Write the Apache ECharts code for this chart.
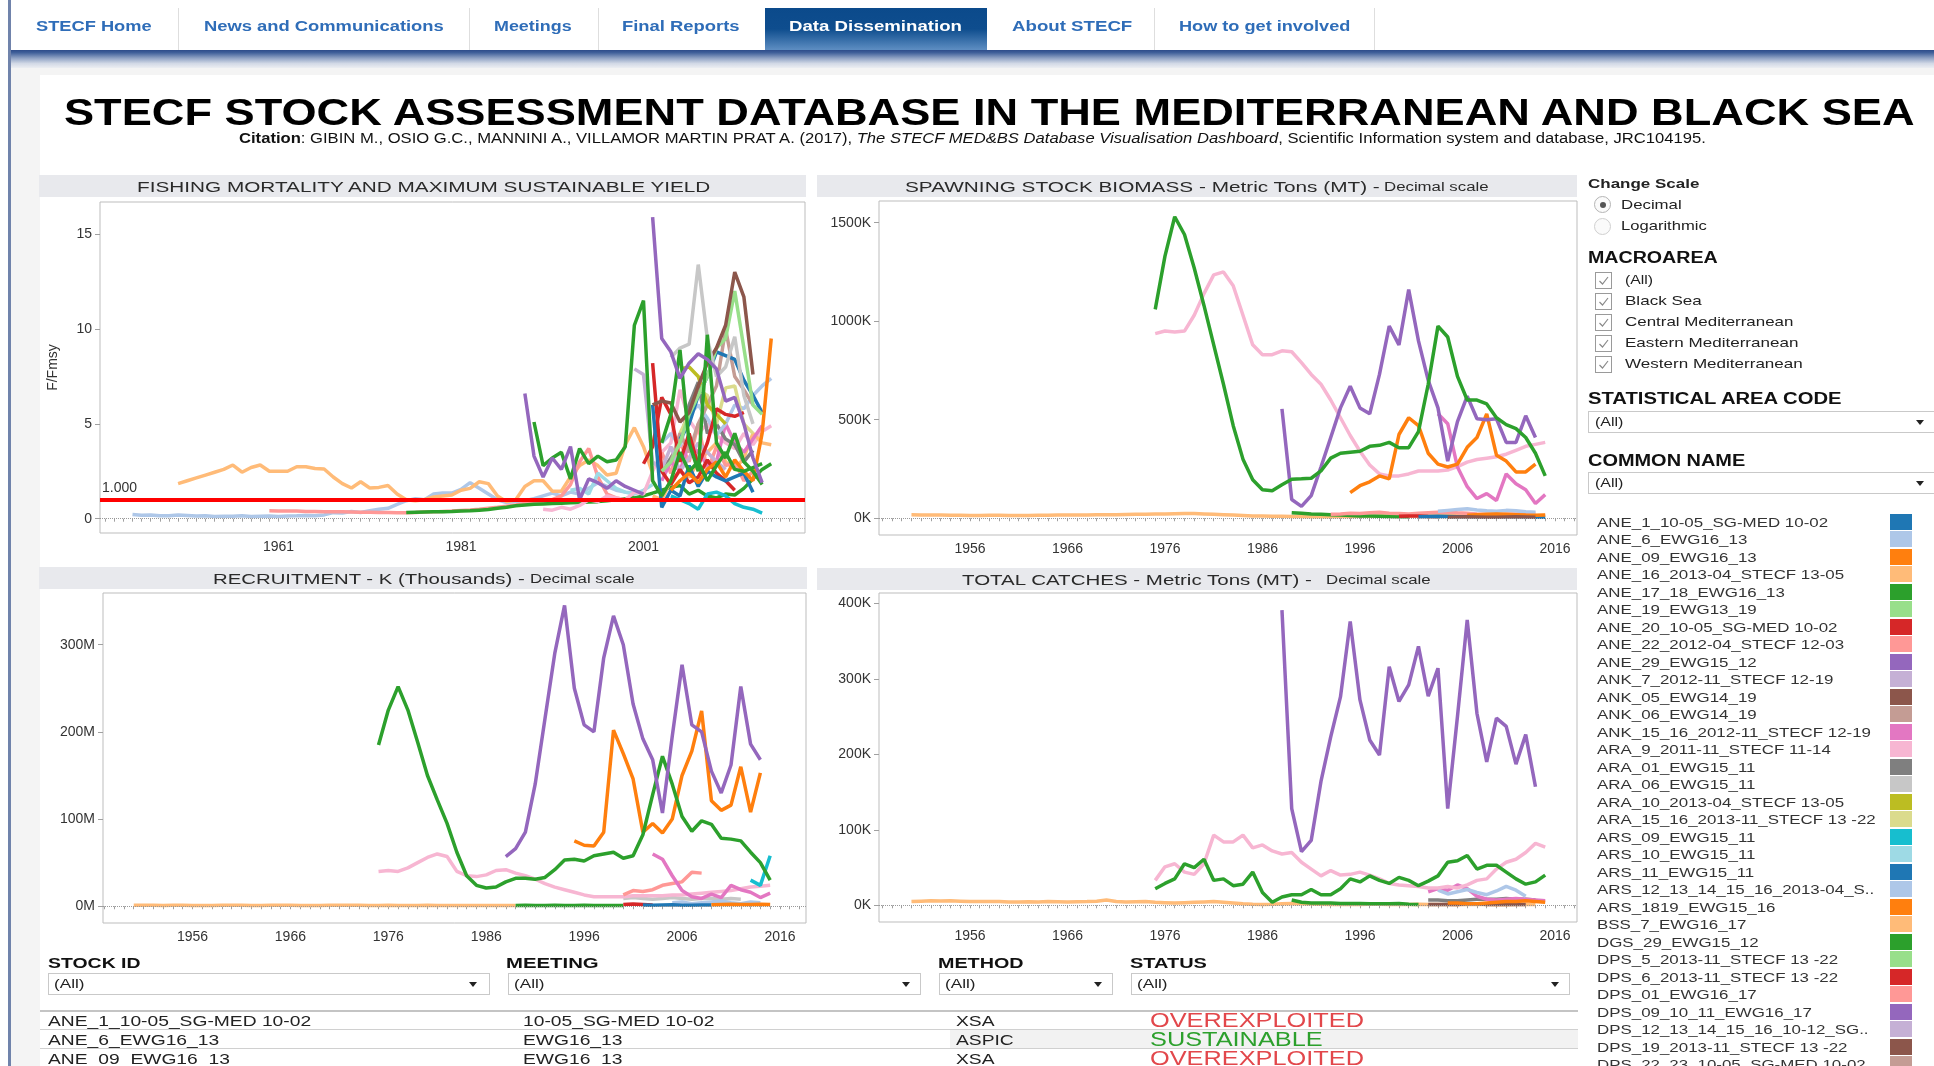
<!DOCTYPE html>
<html lang="en">
<head>
<meta charset="UTF-8">
<meta name="viewport" content="width=device-width, initial-scale=1.0">
<script src="https://cdn.jsdelivr.net/npm/echarts@6.0.0/dist/echarts.min.js"></script>
<title>STECF stock assessment database</title>
<style>
    * { margin: 0; padding: 0; box-sizing: border-box; }
    body {
        position: relative; width: 1934px; height: 1066px; overflow: hidden; background: #fff;
        font-family: "Liberation Sans", Arial, sans-serif; color: #222;
    }
    .box { position: absolute; }
    .t {
        position: absolute; white-space: nowrap; line-height: 1; z-index: 3;
        transform-origin: 0 50%; transform: translateY(-50%);
    }
    .nav { font-size: 14px; font-weight: bold; color: #2f6db8; }
    .sep { position: absolute; top: 8px; width: 1px; height: 42px; background: #dedede; }
    .hdr { position: absolute; height: 22px; background: #e8e9ed; }
    .ht { font-size: 15px; color: #2a2a2a; }
    .hs { font-size: 12px; color: #2a2a2a; }
    .side { font-size: 13.5px; color: #222; }
    .sideb { font-size: 16px; font-weight: bold; color: #111; }
    .flt { font-size: 14px; font-weight: bold; color: #111; }
    .dd { position: absolute; height: 22px; background: #fff; border: 1px solid #c9c9c9; }
    .ddt { font-size: 12px; color: #222; }
    .arrow {
        position: absolute; width: 0; height: 0; z-index: 3;
        border-left: 4px solid transparent; border-right: 4px solid transparent; border-top: 5px solid #222;
    }
    .cb { position: absolute; width: 17px; height: 17px; border: 1px solid #9a9a9a; background: #fff; }
    .radio { position: absolute; width: 17px; height: 17px; border-radius: 50%; border: 1px solid #b5b5b5; background: #fafafa; }
    .lg { font-size: 13px; color: #333; }
    .cell { font-size: 15px; color: #222; }
    .status { font-size: 20px; }
    #chart { position: absolute; left: 0; top: 0; width: 1934px; height: 1066px; z-index: 2; }
</style>
</head>
<body>
<!-- page frame -->
<div class="box" style="left:8px;top:0;width:3px;height:1066px;background:#7083ab"></div>
<div class="sep" style="left:178px"></div>
<div class="sep" style="left:469px"></div>
<div class="sep" style="left:598px"></div>
<div class="sep" style="left:1154px"></div>
<div class="sep" style="left:1374px"></div>
<div class="box" style="left:765px;top:8px;width:222px;height:42px;background:linear-gradient(#0b4a8b 0%, #0e4d8e 50%, #5e8ec2 100%)"></div>
<div class="box" style="left:11px;top:50px;width:1923px;height:18px;background:linear-gradient(#2d4c8a 0%, #40609a 15%, #8fa2c4 45%, #d2d9e6 75%, #eceef2 100%)"></div>
<div class="box" style="left:11px;top:68px;width:1923px;height:7px;background:#f4f4f4"></div>
<div class="box" style="left:11px;top:75px;width:29px;height:991px;background:#f4f4f4"></div>

<div class="t nav" data-w="116" style="left:36px;top:26px">STECF Home</div>
<div class="t nav" data-w="240" style="left:204px;top:26px">News and Communications</div>
<div class="t nav" data-w="78" style="left:494px;top:26px">Meetings</div>
<div class="t nav" data-w="117" style="left:622px;top:26px">Final Reports</div>
<div class="t nav" data-w="173" style="left:789px;top:26px;color:#fff">Data Dissemination</div>
<div class="t nav" data-w="120" style="left:1012px;top:26px">About STECF</div>
<div class="t nav" data-w="171" style="left:1179px;top:26px">How to get involved</div>

<div class="t" data-w="1850" style="left:64px;top:113px;font-size:36px;font-weight:bold;color:#000">STECF STOCK ASSESSMENT DATABASE IN THE MEDITERRANEAN AND BLACK SEA</div>
<div class="t" data-w="1467" style="left:239px;top:138px;font-size:14px;color:#111"><b>Citation</b>: GIBIN M., OSIO G.C., MANNINI A., VILLAMOR MARTIN PRAT A. (2017), <i>The STECF MED&amp;BS Database Visualisation Dashboard</i>, Scientific Information system and database, JRC104195.</div>

<!-- chart headers -->
<div class="hdr" style="left:39px;top:175px;width:767px"></div>
<div class="hdr" style="left:817px;top:175px;width:760px"></div>
<div class="hdr" style="left:39px;top:567px;width:768px"></div>
<div class="hdr" style="left:817px;top:568px;width:760px"></div>
<div class="t ht" data-w="574" style="left:137px;top:186px">FISHING MORTALITY AND MAXIMUM SUSTAINABLE YIELD</div>
<div class="t ht" data-w="475" style="left:905px;top:186px">SPAWNING STOCK BIOMASS - Metric Tons (MT) -</div>
<div class="t hs" data-w="105" style="left:1384px;top:187px">Decimal scale</div>
<div class="t ht" data-w="312" style="left:213px;top:578px">RECRUITMENT - K (Thousands) -</div>
<div class="t hs" data-w="105" style="left:530px;top:579px">Decimal scale</div>
<div class="t ht" data-w="350" style="left:962px;top:579px">TOTAL CATCHES - Metric Tons (MT) -</div>
<div class="t hs" data-w="105" style="left:1326px;top:580px">Decimal scale</div>

<!-- right side filters -->
<div class="t side" data-w="111" style="left:1588px;top:183px;font-weight:bold;font-size:13px">Change Scale</div>
<div class="radio" style="left:1594px;top:196px"></div>
<div class="box" style="left:1599.5px;top:201.5px;width:6px;height:6px;border-radius:50%;background:#555"></div>
<div class="radio" style="left:1594px;top:218px;border-color:#d0d0d0"></div>
<div class="t side" data-w="61" style="left:1621px;top:205px">Decimal</div>
<div class="t side" data-w="86" style="left:1621px;top:226px">Logarithmic</div>
<div class="t sideb" data-w="130" style="left:1588px;top:258px">MACROAREA</div>
<div id="checks"></div>
<div class="t sideb" data-w="254" style="left:1588px;top:399px">STATISTICAL AREA CODE</div>
<div class="dd" style="left:1588px;top:411px;width:360px"></div>
<div class="t ddt" data-w="28" style="left:1595px;top:422px">(All)</div>
<div class="arrow" style="left:1916px;top:420px"></div>
<div class="t sideb" data-w="157" style="left:1588px;top:461px">COMMON NAME</div>
<div class="dd" style="left:1588px;top:472px;width:360px"></div>
<div class="t ddt" data-w="28" style="left:1595px;top:483px">(All)</div>
<div class="arrow" style="left:1916px;top:481px"></div>
<div id="legend"></div>

<!-- bottom filters and table -->
<div class="t flt" data-w="93" style="left:48px;top:963px">STOCK ID</div>
<div class="t flt" data-w="93" style="left:506px;top:963px">MEETING</div>
<div class="t flt" data-w="86" style="left:938px;top:963px">METHOD</div>
<div class="t flt" data-w="77" style="left:1130px;top:963px">STATUS</div>
<div class="dd" style="left:48px;top:973px;width:442px"></div>
<div class="dd" style="left:508px;top:973px;width:413px"></div>
<div class="dd" style="left:939px;top:973px;width:174px"></div>
<div class="dd" style="left:1131px;top:973px;width:439px"></div>
<div class="t ddt" data-w="30" style="left:54px;top:984px">(All)</div>
<div class="t ddt" data-w="30" style="left:514px;top:984px">(All)</div>
<div class="t ddt" data-w="30" style="left:945px;top:984px">(All)</div>
<div class="t ddt" data-w="30" style="left:1137px;top:984px">(All)</div>
<div class="arrow" style="left:469px;top:982px"></div>
<div class="arrow" style="left:902px;top:982px"></div>
<div class="arrow" style="left:1094px;top:982px"></div>
<div class="arrow" style="left:1551px;top:982px"></div>
<div class="box" style="left:950px;top:1030px;width:628px;height:18px;background:#f2f2f2"></div>
<div class="box" style="left:40px;top:1010px;width:1538px;height:2px;background:#c4c4c4"></div>
<div class="box" style="left:40px;top:1029px;width:1538px;height:1px;background:#d0d0d0"></div>
<div class="box" style="left:40px;top:1048px;width:1538px;height:1px;background:#d0d0d0"></div>
<div id="table"></div>

<div id="chart"></div>

<script>
    // ---------- legend / filter data ----------
    var palette = ['#1f77b4', '#aec7e8', '#ff7f0e', '#ffbb78', '#2ca02c', '#98df8a', '#d62728', '#ff9896', '#9467bd', '#c5b0d5',
        '#8c564b', '#c49c94', '#e377c2', '#f7b6d2', '#7f7f7f', '#c7c7c7', '#bcbd22', '#dbdb8d', '#17becf', '#9edae5'];
    var stockNames = ['ANE_1_10-05_SG-MED 10-02', 'ANE_6_EWG16_13', 'ANE_09_EWG16_13', 'ANE_16_2013-04_STECF 13-05',
        'ANE_17_18_EWG16_13', 'ANE_19_EWG13_19', 'ANE_20_10-05_SG-MED 10-02', 'ANE_22_2012-04_STECF 12-03',
        'ANE_29_EWG15_12', 'ANK_7_2012-11_STECF 12-19', 'ANK_05_EWG14_19', 'ANK_06_EWG14_19',
        'ANK_15_16_2012-11_STECF 12-19', 'ARA_9_2011-11_STECF 11-14', 'ARA_01_EWG15_11', 'ARA_06_EWG15_11',
        'ARA_10_2013-04_STECF 13-05', 'ARA_15_16_2013-11_STECF 13 -22', 'ARS_09_EWG15_11', 'ARS_10_EWG15_11',
        'ARS_11_EWG15_11', 'ARS_12_13_14_15_16_2013-04_S..', 'ARS_1819_EWG15_16', 'BSS_7_EWG16_17',
        'DGS_29_EWG15_12', 'DPS_5_2013-11_STECF 13 -22', 'DPS_6_2013-11_STECF 13 -22', 'DPS_01_EWG16_17',
        'DPS_09_10_11_EWG16_17', 'DPS_12_13_14_15_16_10-12_SG..', 'DPS_19_2013-11_STECF 13 -22',
        'DPS_22_23_10-05_SG-MED 10-02'];
    var macroAreas = ['(All)', 'Black Sea', 'Central Mediterranean', 'Eastern Mediterranean', 'Western Mediterranean'];
    var macroWidths = [28, 77, 168, 173, 178];

    var tableStock = ['ANE_1_10-05_SG-MED 10-02', 'ANE_6_EWG16_13', 'ANE_09_EWG16_13'];
    var tableMeeting = ['10-05_SG-MED 10-02', 'EWG16_13', 'EWG16_13'];
    var tableMethod = ['XSA', 'ASPIC', 'XSA'];
    var tableStatus = ['OVEREXPLOITED', 'SUSTAINABLE', 'OVEREXPLOITED'];

    // ---------- F / Fmsy ----------
    var fAne6 = [0.22, 0.18, 0.2, 0.15, 0.16, 0.2, 0.17, 0.14, 0.15, 0.12, 0.13, 0.13, 0.15, 0.12, 0.13, 0.14, 0.12, 0.14, 0.15, 0.17,
        0.15, 0.2, 0.32, 0.3, 0.38, 0.33, 0.42, 0.5, 0.55, 0.75, 0.95, 1.05, 1.0, 1.3, 1.35, 1.35, 1.55, 1.9, 1.6, 1.3,
        1.0, 0.85, 0.9, 0.95, 1.05, 1.2, 1.35, 1.2, 1.4, 1.3, 1.6, 1.9, 1.7, 1.5, 1.4, 1.35];           // 1945-2000
    var fBss7 = [1.85, 2.0, 2.15, 2.3, 2.45, 2.6, 2.83, 2.45, 2.7, 2.83, 2.5, 2.5, 2.5, 2.74, 2.74, 2.65, 2.62, 2.2, 1.85, 1.62,
        1.95, 1.62, 1.65, 1.75, 1.3, 1.0, 0.95, 1.0, 1.15, 1.2, 1.25, 1.5, 1.6, 1.95, 1.85, 1.2, 0.9, 1.0, 1.7, 2.0,
        2.0, 1.45, 1.45, 2.2, 2.8, 3.1, 2.8, 2.3, 2.4, 3.9, 4.8, 3.8, 2.4];                           // 1950-2002
    var fDps01 = [0.42, 0.41, 0.4, 0.4, 0.38, 0.38, 0.37, 0.36, 0.36, 0.35, 0.34, 0.34, 0.33, 0.33, 0.32, 0.32, 0.33, 0.35, 0.36, 0.38,
        0.4, 0.43, 0.46, 0.5, 0.55, 0.6, 0.66, 0.72, 0.8, 0.85, 0.9, 1.0, 1.2, 1.8, 3.0, 3.7, 2.2, 1.3, 1.1, 1.0, 1.2]; // 1960-2000
    var fAne1718 = [0.33, 0.34, 0.35, 0.36, 0.37, 0.38, 0.4, 0.42, 0.45, 0.48, 0.55, 0.6, 0.68, 0.72, 0.76, 0.78, 0.8, 0.82, 0.84, 0.85,
        0.88, 0.9, 0.95, 1.0, 1.05, 1.1, 1.2, 1.35, 1.5, 1.65, 1.75, 1.3, 1.5, 1.2, 1.1, 1.3, 1.25, 1.6, 2.1, 2.6, 2.9]; // 1975-2015
    var fAne29 = [6.6, 3.3, 2.2, 3.2, 2.6, 3.8, 1.0, 2.1, 1.9, 1.6, 2.0, 1.7, 1.5, 1.3];                    // 1988-2001
    var fDgs29 = [5.1, 2.8, 3.2, 3.5, 2.1, 3.7, 2.9, 3.3, 3.0, 3.1, 3.8, 10.2, 11.5, 2.0, 1.2, 2.0, 3.5, 2.5, 3.0, 2.0,
        2.8, 3.5, 2.6, 2.5, 2.7, 2.9];                                                               // 1989-2014
    var fAne19 = [4.0, 5.5, 8.9, 4.0, 2.5, 9.7, 4.0, 3.2, 4.5, 3.0, 2.5, 1.8];                             // 2003-2014
    var fDps0911 = [15.9, 9.5, 8.8, 7.4, 8.2, 8.7, 8.4, 7.9, 6.2, 6.4, 5.0, 3.2, 1.9];                      // 2002-2014
    var fAra06 = [8.5, 9.0, 9.2, 13.4, 9.5, 7.5, 8.0, 9.6, 6.5, 5.0];                                      // 2004-2013
    var fAnk05 = [6.0, 6.2, 6.1, 5.1, 5.6, 7.0, 8.2, 9.0, 10.2, 13.0, 11.7, 7.6];                          // 2002-2013
    var fDps5 = [2.5, 3.0, 4.0, 5.5, 6.5, 7.5, 9.0, 9.5, 12.0, 9.0, 6.0, 5.5];                             // 2003-2014
    var fAne09 = [1.5, 2.0, 2.4, 1.9, 2.6, 3.0, 2.2, 3.1, 2.5, 2.0, 4.5, 9.5];                             // 2004-2015
    var fArs11 = [4.2, 5.0, 6.5, 7.5, 8.8, 8.6, 8.4, 7.3, 6.5, 5.6];                                       // 2005-2014
    var fAne1 = [6.0, 0.6, 1.5, 1.2, 2.8, 1.7, 2.5, 2.2, 2.0, 2.2, 2.4, 1.4];                              // 2002-2013
    var fAne20 = [2.9, 3.8, 6.4, 5.5, 3.0, 4.5, 2.8, 4.0, 5.8, 5.5, 5.4, 5.6];                             // 2001-2012
    var fDps6 = [8.2, 2.5, 1.8, 2.6, 1.9, 2.2, 3.1, 2.4, 2.0, 1.5];                                        // 2002-2011
    var fAnk06 = [3.0, 4.5, 3.5, 5.0, 6.0, 7.0, 10.0, 7.5, 6.8, 6.0];                                      // 2004-2013
    var fAra10 = [7.9, 8.0, 7.5, 6.0, 5.5, 5.0];                                                           // 2005-2010
    var fAra1516 = [4.5, 5.5, 6.8, 6.5, 5.0, 6.9, 7.0, 5.0, 4.5];                                          // 2005-2013
    var fArs09 = [1.2, 1.0, 0.8, 0.5, 1.3, 1.4, 1.2, 0.8, 0.6, 0.5, 0.3];                                  // 2004-2014
    var fArs10 = [1.5, 1.6, 1.3, 2.4, 2.0, 1.6, 1.4, 1.3, 1.5, 1.8];                                       // 1993-2002
    var fAne22 = [3.5, 2.4, 4.0, 3.0, 5.0, 2.5, 3.8, 2.8, 3.0, 2.0, 2.5];                                  // 2003-2013
    var fAnk1516 = [2.0, 3.0, 2.5, 4.0, 3.5, 2.8, 3.0, 5.0, 4.0, 3.5, 4.2, 4.9];                           // 2003-2014
    var fAra9 = [0.5, 0.45, 0.6, 0.5, 0.7, 1.0, 0.9, 1.2, 1.1, 1.0, 1.4, 1.3, 2.5, 3.5, 4.0, 6.8, 5.2, 4.5, 5.0, 4.4,
        4.0, 3.7, 4.5, 3.9, 4.6, 4.9];                                                               // 1990-2015
    var fAnk7 = [7.9, 7.6, 3.0, 2.6, 3.8, 2.5, 3.2, 4.0, 3.5, 3.0, 2.6];                                   // 2000-2010
    var fAra01 = [2.5, 3.2, 4.0, 6.0, 7.2, 4.5, 5.0, 4.2, 3.9, 3.0, 3.6];                                  // 2003-2013
    var fArs12 = [4.0, 4.5, 3.8, 5.5, 6.0, 5.3, 4.4, 5.0, 6.0, 5.8, 6.5, 7.0, 7.4];                        // 2003-2015
    var fAne16 = [1.2, 1.0, 2.0, 2.5, 2.2, 3.0, 3.5, 4.0, 3.0, 2.6, 3.2, 4.5, 4.0, 3.9];                   // 2002-2015

    // ---------- spawning stock biomass (thousand t) ----------
    var ssbBss7 = [18, 17, 17, 16, 15, 15, 14, 14, 15, 15, 14, 14, 14, 15, 15, 16, 16, 17, 17, 18, 18, 18, 19, 20, 20,
        21, 22, 23, 24, 24, 22, 20, 18, 16, 14, 12, 11, 10, 10, 9, 9, 8, 8, 8, 9, 9, 10, 10, 11, 11,
        12, 12, 13, 13, 14, 14, 13, 12, 12, 11, 11, 12, 12, 13, 13, 14];                              // 1950-2015
    var ssbSpr = [1060, 1330, 1530, 1440, 1270, 1080, 880, 680, 470, 300, 195, 145, 140, 170, 198, 200, 203, 240, 305, 330,
        335, 340, 365, 370, 385, 358, 358, 440, 680, 975, 920, 720, 600, 600, 580, 510, 475, 455, 410, 330, 215]; // 1975-2015
    var ssbAra9 = [937, 950, 945, 950, 1030, 1140, 1235, 1250, 1180, 1030, 880, 830, 830, 850, 845, 790, 730, 680, 600, 510,
        420, 340, 270, 225, 215, 215, 225, 240, 240, 240, 245, 262, 285, 298, 305, 312, 325, 345, 365, 375, 385]; // 1975-2015
    var ssbDps0911 = [555, 95, 60, 115, 260, 410, 560, 670, 560, 530, 730, 975, 880, 1160, 900, 700, 560, 290, 490, 620,
        505, 500, 505, 385, 385, 520, 410];                                                          // 1988-2014
    var ssbAne09 = [130, 165, 185, 215, 200, 425, 510, 470, 330, 275, 260, 275, 360, 410, 530, 320, 290, 235, 235, 275]; // 1995-2014
    var ssbAnk1516 = [530, 480, 260, 160, 100, 125, 90, 225, 175, 145, 75, 120];                            // 2004-2015
    var ssbDgs29 = [28, 25, 22, 20, 18, 16, 14, 12, 11, 10, 9, 8, 7];                                      // 1989-2001
    var ssbAne20 = [10, 12, 11, 9, 8];                                                                     // 2000-2004
    var ssbAne1 = [8, 9, 10, 9, 8, 7, 6, 6, 7, 8, 7, 6, 5, 5];                                             // 2002-2015
    var ssbAne6 = [35, 40, 45, 48, 42, 38, 35, 40, 38, 33, 30];                                            // 2004-2014
    var ssbAne22 = [20, 22, 25, 24, 28, 30, 26, 24, 22, 25, 28, 30, 32, 28, 25, 22, 20, 18, 20, 22, 24, 25]; // 1993-2014
    var ssbArs1819 = [15, 18, 20, 22, 20, 18, 16, 15, 17];                                                 // 2007-2015
    var ssbAnk05 = [5, 6, 7, 6, 5, 5, 6, 7, 6, 5];                                                         // 2005-2014

    // ---------- recruitment (million) ----------
    var recBss7 = [1.2, 1.1, 1.2, 1.0, 1.1, 1.2, 1.0, 0.9, 1.0, 1.1, 1.2, 1.1, 1.0, 1.0, 1.1, 1.2, 1.1, 1.0, 0.9, 1.0,
        1.1, 1.2, 1.2, 1.1, 1.0, 1.0, 1.1, 1.0, 0.9, 1.0, 1.1, 1.0, 1.0, 0.9, 0.8, 0.9, 1.0, 1.0, 0.9, 0.9]; // 1950-1989
    var recSpr = [185, 225, 252, 225, 188, 150, 122, 95, 62, 35, 24, 21, 22, 28, 32, 32, 31, 33, 42, 53,
        54, 52, 58, 60, 62, 55, 58, 82, 128, 172, 140, 103, 86, 98, 94, 78, 77, 75, 62, 50, 30];   // 1975-2015
    var recDps0911 = [57, 66, 85, 140, 215, 290, 345, 250, 208, 200, 285, 333, 300, 232, 192, 168, 107, 195, 277, 208,
        200, 155, 130, 162, 252, 186, 168];                                                          // 1988-2014
    var recAne09 = [75, 70, 69, 85, 202, 175, 146, 85, 95, 84, 100, 150, 178, 224, 121, 110, 116, 160, 108, 153]; // 1995-2014
    var recAra9 = [40, 41, 40, 44, 50, 56, 60, 57, 40, 35, 34, 36, 41, 42, 38, 35, 31, 26, 22, 19,
        16, 13, 11, 11, 11, 11, 12, 12, 12, 12, 13, 13, 14, 15, 16, 17, 18, 20, 22, 23, 24];      // 1975-2015
    var recAnk1516 = [60, 54, 35, 18, 11, 9, 14, 10, 24, 19, 16, 10, 15];                                  // 2003-2015
    var recAne22 = [13, 18, 17, 19, 24, 26, 28, 39, 38];                                                   // 2000-2008
    var recArs09 = [30, 24, 58];                                                                           // 2013-2015
    var recDgs29 = [1.0, 1.1, 0.9, 1.0, 1.2, 1.0, 0.9, 1.1, 1.0, 1.0, 0.9, 1.0];                          // 1989-2000
    var recAne20 = [2.0, 2.5, 2.0, 1.5];                                                                   // 2000-2003
    var recAne1 = [1.5, 1.2, 1.4, 1.6, 1.3, 1.2, 1.5, 1.4];                                                // 2002-2009
    var recArs1819 = [1.8, 2.0, 2.2, 1.9, 2.1, 2.3, 2.0];                                                  // 2009-2015
    var recAra06 = [9, 10, 9, 8, 9, 10, 9, 8, 9, 9, 8, 9, 8];                                              // 2000-2012
    var recAne6 = [4, 5, 3, 4, 5, 6, 4, 3, 5, 4];                                                          // 2005-2014

    // ---------- total catches (thousand t) ----------
    var catBss7 = [5, 5.5, 6, 5.8, 6, 5.5, 5, 5, 5.2, 5, 4.5, 4.5, 4.8, 4.5, 5, 4.8, 4.5, 4.8, 5, 5.5,
        7, 5, 4.5, 4.8, 5, 4, 3.5, 3, 3.5, 4, 4.5, 5, 4, 3, 2, 1.5, 1.2, 1.5, 2, 2.5,
        2, 1.8, 1.5, 1.2, 1, 1, 1.2, 1.5, 1.3, 1, 1, 1.1, 1.3, 1.2, 1, 1, 0.8, 1, 1.2, 1,
        0.8, 0.9, 1, 1.1, 1];                                                                        // 1950-2014
    var catDps0911 = [391, 128, 71, 86, 164, 223, 276, 376, 272, 219, 199, 316, 270, 292, 343, 277, 314, 128, 250, 378,
        254, 190, 248, 237, 187, 226, 157];                                                          // 1988-2014
    var catAra9 = [33, 51, 55, 44, 41, 55, 93, 84, 84, 93, 76, 80, 72, 68, 70, 57, 48, 39, 46, 40,
        41, 44, 40, 35, 29, 27, 26, 25, 23, 23, 25, 23, 27, 33, 35, 48, 57, 61, 70, 82, 77];       // 1975-2015
    var catSpr = [22, 29, 35, 55, 50, 61, 33, 35, 26, 28, 44, 17, 4, 11, 14, 14, 21, 14, 14, 22,
        35, 31, 39, 33, 29, 37, 33, 26, 32, 39, 57, 59, 66, 48, 53, 53, 44, 35, 28, 31, 40];       // 1975-2015
    var catDgs29 = [7, 4, 3, 3, 3, 2.5, 2.5, 2.5, 2, 2, 2, 2.5, 1.5, 1];                                   // 1989-2002
    var catAne6 = [20, 15, 18, 21, 17, 14, 19, 25, 20, 12];                                                // 2004-2013
    var catAnk1516 = [18, 22, 20, 27, 22, 12, 8, 7, 8, 9, 8, 7, 6];                                        // 2003-2015
    var catAra01 = [7, 7, 6, 6, 7, 8, 8, 8, 9, 8, 8, 7];                                                   // 2003-2014
    var catArs1819 = [3, 3, 2, 2, 3, 4, 5, 5, 6, 5, 4];                                                    // 2005-2015
    var catAnk05 = [1, 1, 1, 1, 2, 2, 1, 1, 1, 1, 1];                                                      // 2003-2013

    // rows: [name, palette index, first year, values]
    var fRows = [
        ['ANE_6_EWG16_13', 1, 1945, fAne6], ['BSS_7_EWG16_17', 3, 1950, fBss7], ['DPS_01_EWG16_17', 7, 1960, fDps01],
        ['ANE_17_18_EWG16_13', 4, 1975, fAne1718], ['ARS_10_EWG15_11', 19, 1993, fArs10], ['ARA_9_2011-11_STECF 11-14', 13, 1990, fAra9],
        ['ANE_16_2013-04_STECF 13-05', 3, 2002, fAne16], ['ARS_09_EWG15_11', 18, 2004, fArs09], ['ANE_22_2012-04_STECF 12-03', 7, 2003, fAne22],
        ['ANK_15_16_2012-11_STECF 12-19', 12, 2003, fAnk1516], ['ARA_01_EWG15_11', 14, 2003, fAra01], ['ARS_12_13_14_15_16_2013-04_S..', 1, 2003, fArs12],
        ['ARA_15_16_2013-11_STECF 13 -22', 17, 2005, fAra1516], ['ANK_06_EWG14_19', 11, 2004, fAnk06], ['ARA_10_2013-04_STECF 13-05', 16, 2005, fAra10],
        ['ANK_7_2012-11_STECF 12-19', 9, 2000, fAnk7], ['DPS_6_2013-11_STECF 13 -22', 6, 2002, fDps6], ['ANE_20_10-05_SG-MED 10-02', 6, 2001, fAne20],
        ['ANE_1_10-05_SG-MED 10-02', 0, 2002, fAne1], ['ARS_11_EWG15_11', 0, 2005, fArs11], ['ANE_09_EWG16_13', 2, 2004, fAne09],
        ['DPS_5_2013-11_STECF 13 -22', 5, 2003, fDps5], ['ANK_05_EWG14_19', 10, 2002, fAnk05], ['ARA_06_EWG15_11', 15, 2004, fAra06],
        ['ANE_19_EWG13_19', 4, 2003, fAne19], ['DGS_29_EWG15_12', 4, 1989, fDgs29], ['ANE_29_EWG15_12', 8, 1988, fAne29],
        ['DPS_09_10_11_EWG16_17', 8, 2002, fDps0911]
    ];
    var ssbRows = [
        ['BSS_7_EWG16_17', 3, 1950, ssbBss7], ['DGS_29_EWG15_12', 4, 1989, ssbDgs29], ['ANE_22_2012-04_STECF 12-03', 7, 1993, ssbAne22],
        ['ANE_6_EWG16_13', 1, 2004, ssbAne6], ['ANE_20_10-05_SG-MED 10-02', 6, 2000, ssbAne20], ['ANE_1_10-05_SG-MED 10-02', 0, 2002, ssbAne1],
        ['ARS_1819_EWG15_16', 2, 2007, ssbArs1819], ['ANK_05_EWG14_19', 10, 2005, ssbAnk05],
        ['ARA_9_2011-11_STECF 11-14', 13, 1975, ssbAra9], ['ANK_15_16_2012-11_STECF 12-19', 12, 2004, ssbAnk1516],
        ['ANE_09_EWG16_13', 2, 1995, ssbAne09], ['DPS_09_10_11_EWG16_17', 8, 1988, ssbDps0911], ['SPR_29_EWG14_19', 4, 1975, ssbSpr]
    ];
    var recRows = [
        ['BSS_7_EWG16_17', 3, 1950, recBss7], ['DGS_29_EWG15_12', 4, 1989, recDgs29], ['ARA_06_EWG15_11', 15, 2000, recAra06],
        ['ANE_6_EWG16_13', 1, 2005, recAne6], ['ANE_20_10-05_SG-MED 10-02', 6, 2000, recAne20], ['ANE_1_10-05_SG-MED 10-02', 0, 2002, recAne1],
        ['ARS_1819_EWG15_16', 2, 2009, recArs1819], ['ARA_9_2011-11_STECF 11-14', 13, 1975, recAra9],
        ['ANE_22_2012-04_STECF 12-03', 7, 2000, recAne22], ['ANK_15_16_2012-11_STECF 12-19', 12, 2003, recAnk1516],
        ['ARS_09_EWG15_11', 18, 2013, recArs09], ['ANE_09_EWG16_13', 2, 1995, recAne09], ['SPR_29_EWG14_19', 4, 1975, recSpr],
        ['DPS_09_10_11_EWG16_17', 8, 1988, recDps0911]
    ];
    var catRows = [
        ['BSS_7_EWG16_17', 3, 1950, catBss7], ['DGS_29_EWG15_12', 4, 1989, catDgs29], ['ANK_05_EWG14_19', 10, 2003, catAnk05],
        ['ARA_01_EWG15_11', 14, 2003, catAra01], ['ANK_15_16_2012-11_STECF 12-19', 12, 2003, catAnk1516],
        ['ANE_6_EWG16_13', 1, 2004, catAne6], ['ARS_1819_EWG15_16', 2, 2005, catArs1819],
        ['ARA_9_2011-11_STECF 11-14', 13, 1975, catAra9], ['SPR_29_EWG14_19', 4, 1975, catSpr],
        ['DPS_09_10_11_EWG16_17', 8, 1988, catDps0911]
    ];

    // ---------- HTML parts built from the arrays ----------
    function txt(parent, text, x, y, cls, extra) {
        var d = document.createElement('div');
        d.className = 't ' + cls;
        d.textContent = text;
        d.style.left = x + 'px';
        d.style.top = y + 'px';
        if (extra) Object.assign(d.style, extra);
        parent.appendChild(d);
        return d;
    }
    var checks = document.getElementById('checks');
    macroAreas.forEach(function (name, i) {
        var cy = 280 + i * 21;
        var b = document.createElement('div');
        b.className = 'cb';
        b.style.left = '1595px';
        b.style.top = (cy - 8.5) + 'px';
        b.innerHTML = '<svg width="15" height="15"><polyline points="3.5,8 6.5,11 12,4" fill="none" stroke="#8a8a8a" stroke-width="1.2"/></svg>';
        checks.appendChild(b);
        txt(checks, name, 1625, cy, 'side').dataset.w = macroWidths[i];
    });

    var legend = document.getElementById('legend');
    var lgEls = stockNames.map(function (name, i) {
        var cy = 521.7 + i * 17.5;
        var sw = document.createElement('div');
        sw.className = 'box';
        Object.assign(sw.style, { left: '1890px', top: (cy - 8) + 'px', width: '22px', height: '16px', background: palette[i % 20] });
        legend.appendChild(sw);
        return txt(legend, name, 1597, cy, 'lg');
    });

    var table = document.getElementById('table');
    var cellEls = [], statusEls = [];
    tableStock.forEach(function (s, i) {
        var cy = 1020 + i * 19;
        cellEls.push(txt(table, s, 48, cy, 'cell'));
        cellEls.push(txt(table, tableMeeting[i], 523, cy, 'cell'));
        cellEls.push(txt(table, tableMethod[i], 956, cy, 'cell'));
        statusEls.push(txt(table, tableStatus[i], 1150, cy, 'status',
            { color: tableStatus[i] === 'SUSTAINABLE' ? '#2ca02c' : '#e2474b' }));
    });

    // stretch texts to the widths seen in the picture
    function scaleAll(els, s) {
        els.forEach(function (el) { el.style.transform = 'translateY(-50%) scaleX(' + s + ')'; });
    }
    document.querySelectorAll('.t[data-w]').forEach(function (el) {
        scaleAll([el], el.dataset.w / el.offsetWidth);
    });
    scaleAll(lgEls, 247 / lgEls[3].offsetWidth);
    scaleAll(cellEls, 263 / cellEls[0].offsetWidth);
    scaleAll(statusEls, 214 / statusEls[0].offsetWidth);

    // ---------- charts ----------
    var chartDom = document.getElementById('chart');
    var myChart = echarts.init(chartDom);
    var font = '"Liberation Sans", Arial, sans-serif';

    function yearTicks(a, b) {
        var t = [];
        for (var y = Math.ceil(a); y <= Math.floor(b); y++) t.push(y);
        return t;
    }
    function xAxisOf(i, min, max, labels) {
        return {
            gridIndex: i, type: 'value', min: min, max: max,
            axisLine: { show: false },
            axisTick: { show: true, customValues: yearTicks(min, max), length: 3, lineStyle: { color: '#a0a0a0' } },
            axisLabel: { customValues: labels, formatter: function (v) { return String(v); }, fontSize: 14, color: '#333', margin: 7, fontFamily: font },
            splitLine: { show: false }
        };
    }
    function yAxisOf(i, min, max, labels, unit) {
        return {
            gridIndex: i, type: 'value', min: min, max: max,
            axisLine: { show: false },
            axisTick: { show: true, customValues: labels, length: 5, lineStyle: { color: '#a0a0a0' } },
            axisLabel: { customValues: labels, formatter: function (v) { return v + unit; }, fontSize: 14, color: '#333', margin: 8, fontFamily: font },
            splitLine: { show: false }
        };
    }
    function lines(g, rows) {
        return rows.map(function (r) {
            return {
                type: 'line', name: r[0], xAxisIndex: g, yAxisIndex: g,
                data: r[3].map(function (v, k) { return [r[2] + k, v]; }),
                symbol: 'none', silent: true,
                lineStyle: { width: 3.5, color: palette[r[1]] },
                itemStyle: { color: palette[r[1]] }
            };
        });
    }
    var zeroLine = {
        silent: true, symbol: 'none', label: { show: false },
        lineStyle: { type: 'dotted', color: '#9a9a9a', width: 1 },
        data: [{ yAxis: 0 }]
    };

    var fLines = lines(0, fRows);
    var ssbLines = lines(1, ssbRows);
    var recLines = lines(2, recRows);
    var catLines = lines(3, catRows);
    [fLines, ssbLines, recLines, catLines].forEach(function (s) { s[0].markLine = zeroLine; });
    fLines[fLines.length - 1].markLine = {
        silent: true, symbol: 'none',
        lineStyle: { color: '#ff0000', width: 4, type: 'solid' },
        label: { show: true, position: 'insideStartTop', formatter: '1.000', color: '#333', fontSize: 14, fontFamily: font, distance: [2, 5] },
        data: [{ yAxis: 1 }]
    };

    var gridStyle = { show: true, borderColor: '#bdbdbd', borderWidth: 1 };
    var option = {
        animation: false,
        textStyle: { fontFamily: font },
        grid: [
            Object.assign({ left: 100, top: 202, width: 705, height: 331 }, gridStyle),
            Object.assign({ left: 879, top: 201, width: 698, height: 334 }, gridStyle),
            Object.assign({ left: 103, top: 593, width: 703, height: 330 }, gridStyle),
            Object.assign({ left: 879, top: 593, width: 698, height: 329 }, gridStyle)
        ],
        xAxis: [
            xAxisOf(0, 1941.44, 2018.7, [1961, 1981, 2001]),
            xAxisOf(1, 1946.67, 2018.26, [1956, 1966, 1976, 1986, 1996, 2006, 2016]),
            xAxisOf(2, 1946.86, 2018.66, [1956, 1966, 1976, 1986, 1996, 2006, 2016]),
            xAxisOf(3, 1946.67, 2018.26, [1956, 1966, 1976, 1986, 1996, 2006, 2016])
        ],
        yAxis: [
            Object.assign(yAxisOf(0, -0.754, 16.7, [0, 5, 10, 15], ''), {
                name: 'F/Fmsy', nameLocation: 'middle', nameGap: 40,
                nameTextStyle: { fontSize: 14, color: '#333', fontFamily: font }
            }),
            yAxisOf(1, -85, 1610, [0, 500, 1000, 1500], 'K'),
            yAxisOf(2, -19.2, 359.3, [0, 100, 200, 300], 'M'),
            yAxisOf(3, -22.1, 413.6, [0, 100, 200, 300, 400], 'K')
        ],
        series: fLines.concat(ssbLines, recLines, catLines)
    };

    option && myChart.setOption(option);
</script>
</body>
</html>
